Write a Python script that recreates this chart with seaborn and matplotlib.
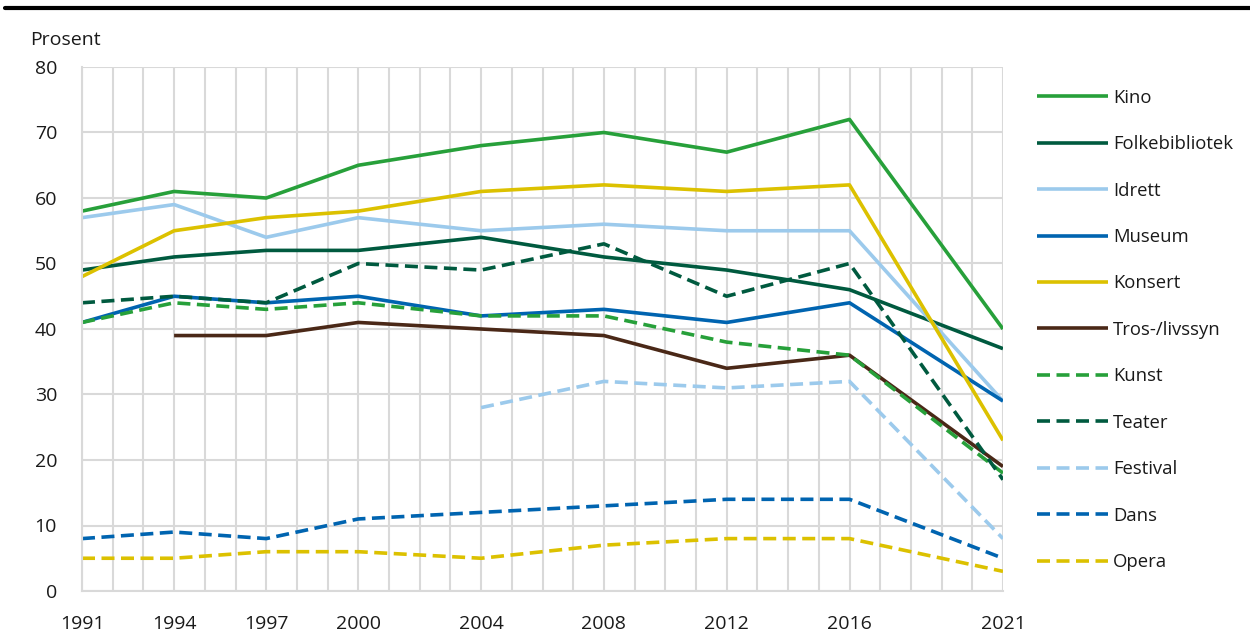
import matplotlib
matplotlib.use("Agg")
import matplotlib.pyplot as plt
import seaborn as sns
import numpy as np
import pandas as pd

years = [1991, 1994, 1997, 2000, 2004, 2008, 2012, 2016, 2021]
kino = [58, 61, 60, 65, 68, 70, 67, 72, 40]
folkebibliotek = [49, 51, 52, 52, 54, 51, 49, 46, 37]
idrett = [57, 59, 54, 57, 55, 56, 55, 55, 29]
museum = [41, 45, 44, 45, 42, 43, 41, 44, 29]
konsert = [48, 55, 57, 58, 61, 62, 61, 62, 23]
tros = [np.nan, 39, 39, 41, 40, 39, 34, 36, 19]
kunst = [41, 44, 43, 44, 42, 42, 38, 36, 18]
teater = [44, 45, 44, 50, 49, 53, 45, 50, 17]
festival = [np.nan, np.nan, np.nan, np.nan, 28, 32, 31, 32, 8]
dans = [8, 9, 8, 11, 12, 13, 14, 14, 5]
opera = [5, 5, 6, 6, 5, 7, 8, 8, 3]

names = ["Kino", "Folkebibliotek", "Idrett", "Museum", "Konsert", "Tros-/livssyn",
         "Kunst", "Teater", "Festival", "Dans", "Opera"]
values = [kino, folkebibliotek, idrett, museum, konsert, tros,
          kunst, teater, festival, dans, opera]
colors = ["#27a03a", "#005a3f", "#9ccaec", "#0064b0", "#dcc100", "#4a2817",
          "#27a03a", "#005a3f", "#9ccaec", "#0064b0", "#dcc100"]
dashed = [False] * 6 + [True] * 5
xtick_labels = ["1991", "1994", "1997", "2000", "2004", "2008", "2012", "2016", "2021"]

sns.set_theme(style="white")
plt.rcParams["font.family"] = ["Open Sans", "DejaVu Sans"]

fig = plt.figure(figsize=(12.5, 6.35), dpi=100)
ax = fig.add_axes([82 / 1250, 1 - 591 / 635, (1003 - 82) / 1250, (591 - 67) / 635])

for name, vals, col, d in zip(names, values, colors, dashed):
    df = pd.DataFrame({"year": years, "value": vals}).dropna()
    sns.lineplot(data=df, x="year", y="value", ax=ax, color=col,
                 linewidth=2.6, label=name, legend=False)
    ln = ax.lines[-1]
    if d:
        ln.set_dashes((3.6, 1.8))
    ln.set_solid_capstyle("butt")

ax.set_xlim(1991, 2021)
ax.set_ylim(0, 80)
all_years = list(range(1991, 2022))
ax.set_xticks(all_years)
ax.set_xticklabels([str(y) if str(y) in xtick_labels else "" for y in all_years], fontsize=14, color="#1a1a1a")
ax.set_yticks(range(0, 81, 10))
ax.set_yticklabels([str(v) for v in range(0, 81, 10)], fontsize=14, color="#1a1a1a")
ax.tick_params(axis="x", length=0, pad=17)
ax.tick_params(axis="y", length=0, pad=18)
ax.grid(True, color="#d9d9d9", linewidth=1.5)
ax.set_axisbelow(True)
for s in ["top", "right"]:
    ax.spines[s].set_visible(False)
for s in ["left", "bottom"]:
    ax.spines[s].set_color("#d9d9d9")
    ax.spines[s].set_linewidth(1.5)
ax.set_xlabel("")
ax.set_ylabel("")

fig.text(30 / 1250, 1 - 40 / 635, "Prosent", fontsize=14, color="#1a1a1a", va="center", ha="left")
fig.add_artist(plt.Line2D([5 / 1250, 1.0], [1 - 8 / 635, 1 - 8 / 635], color="black", linewidth=3))

handles = ax.lines[:]
leg = fig.legend(handles, names, loc="upper left", bbox_to_anchor=(1020 / 1250, 1 - 72 / 635),
                 frameon=False, fontsize=13.3, handlelength=3.85, labelspacing=1.54,
                 handletextpad=0.3)
for t in leg.get_texts():
    t.set_color("#1a1a1a")

fig.savefig("out.png", dpi=100)
